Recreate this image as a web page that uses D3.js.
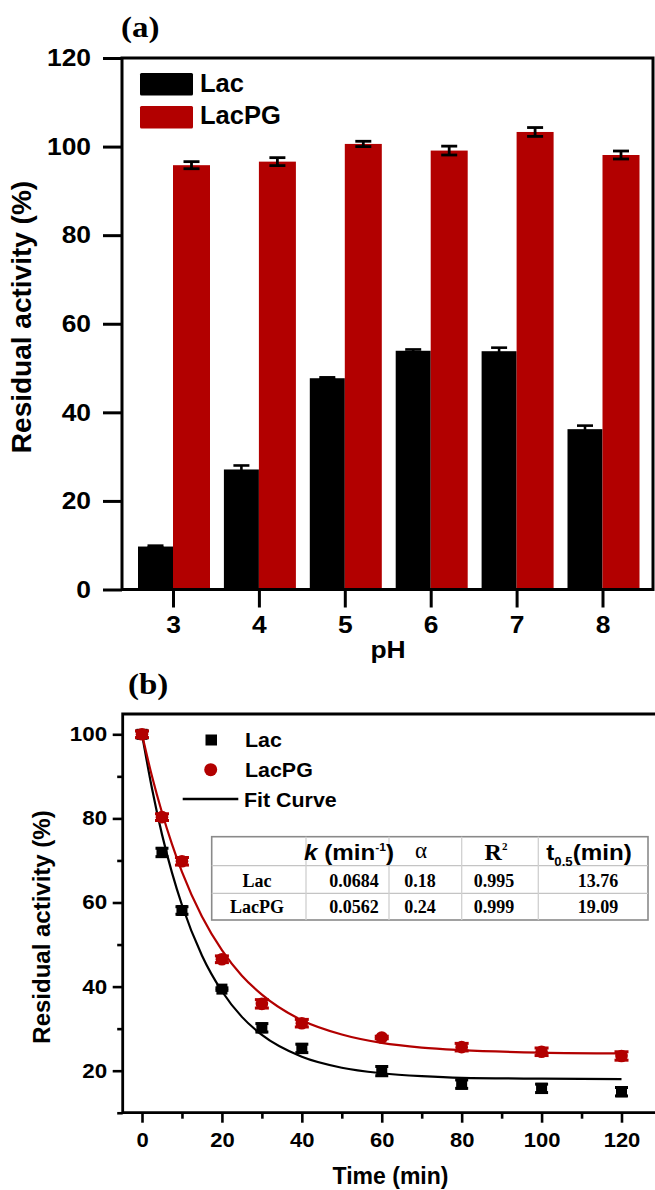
<!DOCTYPE html>
<html><head><meta charset="utf-8">
<script src="https://cdn.jsdelivr.net/npm/d3@7"></script>
<style>body{margin:0;background:#fff} svg{display:block}</style>
</head><body>
<svg id="c" width="655" height="1190"></svg>
<script>
// ---------------- DATA ----------------
// Panel (a): pH stability
const pHValues = [3, 4, 5, 6, 7, 8];
const lacActivity = [9.7, 27.1, 47.7, 53.9, 53.8, 36.2];
const lacErr = [0.2, 0.9, 0.2, 0.3, 0.8, 0.8];
const lacPGActivity = [95.8, 96.6, 100.6, 99.1, 103.3, 98.1];
const lacPGErr = [0.8, 0.9, 0.6, 1.0, 1.0, 0.9];
const yTicksA = [0, 20, 40, 60, 80, 100, 120];
const seriesNamesA = ["Lac", "LacPG"];

// Panel (b): thermal inactivation
const timeMin = [0, 5, 10, 20, 30, 40, 60, 80, 100, 120];
const lacResidual = [100, 71.9, 58.1, 39.4, 30.2, 25.3, 19.9, 16.8, 15.8, 15.0];
const lacResidualErr = [0.8, 1.0, 0.9, 0.3, 1.0, 1.0, 1.1, 1.0, 1.0, 1.0];
const lacPGResidual = [100, 80.3, 69.8, 46.5, 35.9, 31.3, 27.9, 25.6, 24.5, 23.5];
const lacPGResidualErr = [0.8, 0.8, 0.9, 0.8, 1.0, 0.9, 0.3, 0.9, 0.9, 1.0];
// fit curves
const fitTime = [0, 2.5, 5, 7.5, 10, 15, 20, 25, 30, 40, 50, 60, 70, 80, 100, 120];
const lacFit = [100, 87.1, 76.2, 67.1, 59.4, 47.4, 38.9, 32.8, 28.5, 23.3, 20.7, 19.4, 18.7, 18.3, 18.1, 18.0];
const lacPGFit = [100, 90.0, 81.4, 73.9, 67.3, 56.7, 48.7, 42.6, 38.1, 32.0, 28.6, 26.6, 25.5, 24.9, 24.3, 24.1];
const xTicksB = [0, 20, 40, 60, 80, 100, 120];
const xMinorB = [10, 30, 50, 70, 90, 110];
const yTicksB = [20, 40, 60, 80, 100];
const yMinorB = [10, 30, 50, 70, 90];
const legendB = ["Lac", "LacPG", "Fit Curve"];
// Table
const tableRowNames = ["Lac", "LacPG"];
const tableK = ["0.0684", "0.0562"];
const tableAlpha = ["0.18", "0.24"];
const tableR2 = ["0.995", "0.999"];
const tableT05 = ["13.76", "19.09"];

// ---------------- STYLE / LAYOUT ----------------
const SANS = "'Liberation Sans', Arial, sans-serif";
const SERIF = "'Liberation Serif', 'Times New Roman', serif";
const RED = "#b20000";
const svg = d3.select("#c");

function label(g, x, y, s, o = {}) {
  const t = g.append("text")
    .attr("transform", `translate(${x},${y}) scale(${o.sx || 1},1)` + (o.rot ? ` rotate(${o.rot})` : ""))
    .attr("font-family", o.family || SANS)
    .attr("font-size", o.size || 20)
    .attr("font-weight", o.weight || "bold")
    .attr("font-style", o.style || "normal")
    .attr("text-anchor", o.anchor || "start")
    .attr("fill", "#000");
  if (s !== null) t.text(s);
  return t;
}
function errBar(g, cx, y1, y2, capW, sw, color) {
  g.append("line").attr("x1", cx).attr("x2", cx).attr("y1", y1).attr("y2", y2)
    .attr("stroke", color).attr("stroke-width", sw);
  [y1, y2].forEach(yy => g.append("line").attr("x1", cx - capW / 2).attr("x2", cx + capW / 2)
    .attr("y1", yy).attr("y2", yy).attr("stroke", color).attr("stroke-width", sw));
}

// ================= PANEL (a) =================
const gA = svg.append("g");
const frA = { left: 122, right: 653, top: 58, bottom: 589.5 };
const xA = d3.scaleLinear().domain([3, 8]).range([173, 602.5]);
const yA = d3.scaleLinear().domain([0, 120]).range([frA.bottom, frA.top]);

label(gA, 121, 37, "(a)", { family: SERIF, size: 30, sx: 1.1 });

// bars
gA.selectAll("rect.lac").data(pHValues).join("rect").attr("class", "lac")
  .attr("x", d => xA(d) - 35).attr("width", 35)
  .attr("y", (d, i) => yA(lacActivity[i])).attr("height", (d, i) => yA(0) - yA(lacActivity[i]))
  .attr("fill", "#000");
gA.selectAll("rect.lacpg").data(pHValues).join("rect").attr("class", "lacpg")
  .attr("x", d => xA(d)).attr("width", 37)
  .attr("y", (d, i) => yA(lacPGActivity[i])).attr("height", (d, i) => yA(0) - yA(lacPGActivity[i]))
  .attr("fill", RED);
pHValues.forEach((p, i) => {
  errBar(gA, xA(p) - 17.5, yA(lacActivity[i] + lacErr[i]), yA(lacActivity[i] - lacErr[i]), 16, 2.6, "#000");
  errBar(gA, xA(p) + 18.5, yA(lacPGActivity[i] + lacPGErr[i]), yA(lacPGActivity[i] - lacPGErr[i]), 16, 2.8, "#000");
});

// axes
const axYA = gA.append("g").attr("transform", `translate(${frA.left},0)`)
  .call(d3.axisLeft(yA).tickValues(yTicksA).tickSize(19).tickSizeOuter(0));
axYA.select(".domain").remove();
axYA.selectAll(".tick line").attr("stroke-width", 3);
axYA.selectAll(".tick text").attr("font-family", SANS).attr("font-size", 24).attr("font-weight", "bold")
  .attr("transform", "scale(1.1,1)").attr("x", -31 / 1.1);

const axXA = gA.append("g").attr("transform", `translate(0,${frA.bottom})`)
  .call(d3.axisBottom(xA).tickValues(pHValues).tickSize(18).tickSizeOuter(0).tickFormat(d3.format("d")));
axXA.select(".domain").remove();
axXA.selectAll(".tick line").attr("stroke-width", 3);
axXA.selectAll(".tick text").attr("font-family", SANS).attr("font-size", 24).attr("font-weight", "bold")
  .attr("transform", "scale(1.1,1)").attr("y", 26.5);

gA.append("rect").attr("x", frA.left).attr("y", frA.top)
  .attr("width", frA.right - frA.left).attr("height", frA.bottom - frA.top)
  .attr("fill", "none").attr("stroke", "#000").attr("stroke-width", 3);

label(gA, 388, 658, "pH", { size: 24, sx: 1.1, anchor: "middle" });
label(gA, 31, 317, "Residual activity (%)", { size: 28, anchor: "middle", rot: -90 });

// legend (a)
[["#000", 73, 91.7], [RED, 106, 124.3]].forEach((l, i) => {
  gA.append("rect").attr("x", 140).attr("y", l[1]).attr("width", 53).attr("height", 22.5)
    .attr("fill", l[0]).attr("rx", 1.5);
  label(gA, 200, l[2], seriesNamesA[i], { size: 25.5 });
});

// ================= PANEL (b) =================
const gB = svg.append("g");
const frB = { left: 122.7, right: 656, top: 714, bottom: 1112.7 };
const xB = d3.scaleLinear().domain([0, 120]).range([142, 621.5]);
const yB = d3.scaleLinear().domain([20, 100]).range([1070.7, 734.3]);

label(gB, 128, 694, "(b)", { family: SERIF, size: 30, sx: 1.1 });

// axes
const axYB = gB.append("g").attr("transform", `translate(${frB.left},0)`)
  .call(d3.axisLeft(yB).tickValues(yTicksB).tickSize(10).tickSizeOuter(0));
axYB.select(".domain").remove();
axYB.selectAll(".tick line").attr("stroke-width", 2.6);
axYB.selectAll(".tick text").attr("font-family", SANS).attr("font-size", 20).attr("font-weight", "bold")
  .attr("transform", "scale(1.12,1)").attr("x", -15.5 / 1.12);
const axYBm = gB.append("g").attr("transform", `translate(${frB.left},0)`)
  .call(d3.axisLeft(yB).tickValues(yMinorB).tickSize(5.5).tickSizeOuter(0).tickFormat(""));
axYBm.select(".domain").remove();
axYBm.selectAll(".tick line").attr("stroke-width", 2.6);

const axXB = gB.append("g").attr("transform", `translate(0,${frB.bottom})`)
  .call(d3.axisBottom(xB).tickValues(xTicksB).tickSize(10).tickSizeOuter(0));
axXB.select(".domain").remove();
axXB.selectAll(".tick line").attr("stroke-width", 2.6);
axXB.selectAll(".tick text").attr("font-family", SANS).attr("font-size", 20).attr("font-weight", "bold")
  .attr("transform", "scale(1.1,1)").attr("y", 20);
const axXBm = gB.append("g").attr("transform", `translate(0,${frB.bottom})`)
  .call(d3.axisBottom(xB).tickValues(xMinorB).tickSize(6).tickSizeOuter(0).tickFormat(""));
axXBm.select(".domain").remove();
axXBm.selectAll(".tick line").attr("stroke-width", 2.6);

// frame lines (left, top, bottom; right side falls at the image edge)
gB.append("path")
  .attr("d", `M${frB.right},${frB.top}H${frB.left}V${frB.bottom}H${frB.right}`)
  .attr("fill", "none").attr("stroke", "#000").attr("stroke-width", 2.8);

label(gB, 390.5, 1184, "Time (min)", { size: 23, anchor: "middle" });
label(gB, 50, 927, "Residual activity (%)", { size: 24, anchor: "middle", rot: -90 });

// fit curves
const line = d3.line().curve(d3.curveMonotoneX);
gB.append("path").attr("d", line(fitTime.map((t, i) => [xB(t), yB(lacFit[i])])))
  .attr("fill", "none").attr("stroke", "#000").attr("stroke-width", 2.2);
gB.append("path").attr("d", line(fitTime.map((t, i) => [xB(t), yB(lacPGFit[i])])))
  .attr("fill", "none").attr("stroke", RED).attr("stroke-width", 2.2);

// points
timeMin.forEach((t, i) => {
  const v = lacResidual[i], e = lacResidualErr[i];
  errBar(gB, xB(t), yB(v + e), yB(v - e), 13, 3, "#000");
  gB.append("rect").attr("x", xB(t) - 5.5).attr("y", yB(v) - 5.5).attr("width", 11).attr("height", 11).attr("fill", "#000");
});
timeMin.forEach((t, i) => {
  const v = lacPGResidual[i], e = lacPGResidualErr[i];
  errBar(gB, xB(t), yB(v + e), yB(v - e), 14, 3, RED);
  gB.append("circle").attr("cx", xB(t)).attr("cy", yB(v)).attr("r", 6.3).attr("fill", RED);
});

// legend (b)
gB.append("rect").attr("x", 205.5).attr("y", 734.5).attr("width", 11.5).attr("height", 11).attr("fill", "#000");
gB.append("circle").attr("cx", 210.7).attr("cy", 769.7).attr("r", 6.5).attr("fill", RED);
gB.append("line").attr("x1", 182.7).attr("x2", 238.3).attr("y1", 799).attr("y2", 799)
  .attr("stroke", "#000").attr("stroke-width", 2.4);
label(gB, 245, 747, legendB[0], { size: 20, sx: 1.07 });
label(gB, 245, 776.5, legendB[1], { size: 20, sx: 1.07 });
label(gB, 244, 806.5, legendB[2], { size: 20, sx: 1.07 });

// ---------------- TABLE ----------------
const gT = svg.append("g");
const tb = { left: 211.7, right: 648, top: 836.7, h1: 865.7, h2: 893.3, bottom: 920 };
const colX = [211.7, 306, 389, 461.7, 538.3, 648];
gT.append("rect").attr("x", tb.left).attr("y", tb.top).attr("width", tb.right - tb.left)
  .attr("height", tb.bottom - tb.top).attr("fill", "#fff").attr("stroke", "#8a8a8a").attr("stroke-width", 1.6);
[tb.h1, tb.h2].forEach(y => gT.append("line").attr("x1", tb.left).attr("x2", tb.right).attr("y1", y).attr("y2", y)
  .attr("stroke", "#c4c4c4").attr("stroke-width", 1.3));
colX.slice(1, -1).forEach(x => gT.append("line").attr("x1", x).attr("x2", x).attr("y1", tb.top).attr("y2", tb.bottom)
  .attr("stroke", "#d0d0d0").attr("stroke-width", 1.3));

// header
const hk = label(gT, 349, 860, null, { size: 22, sx: 1.1, anchor: "middle" });
hk.append("tspan").attr("font-style", "italic").text("k");
hk.append("tspan").text(" (min");
hk.append("tspan").attr("font-size", 11).attr("dy", -9).text("-1");
hk.append("tspan").attr("dy", 9).text(")");
label(gT, 421, 858, "α", { family: SERIF, size: 23, weight: "normal", anchor: "middle" });
const hr = label(gT, 496, 860, null, { family: SERIF, size: 24, anchor: "middle" });
hr.append("tspan").text("R");
hr.append("tspan").attr("font-size", 11).attr("dy", -10).text("2");
const ht = label(gT, 589, 860, null, { size: 22, sx: 1.1, anchor: "middle" });
ht.append("tspan").text("t");
ht.append("tspan").attr("font-size", 12).attr("dy", 6).text("0.5");
ht.append("tspan").attr("dy", -6).text("(min)");

const rowY = [886.7, 913.3];
const cellX = [257, 354, 420, 494, 598];
tableRowNames.forEach((name, i) => {
  [name, tableK[i], tableAlpha[i], tableR2[i], tableT05[i]].forEach((s, j) => {
    label(gT, cellX[j], rowY[i], s, { family: SERIF, size: 18, anchor: "middle" });
  });
});
</script>
</body></html>
